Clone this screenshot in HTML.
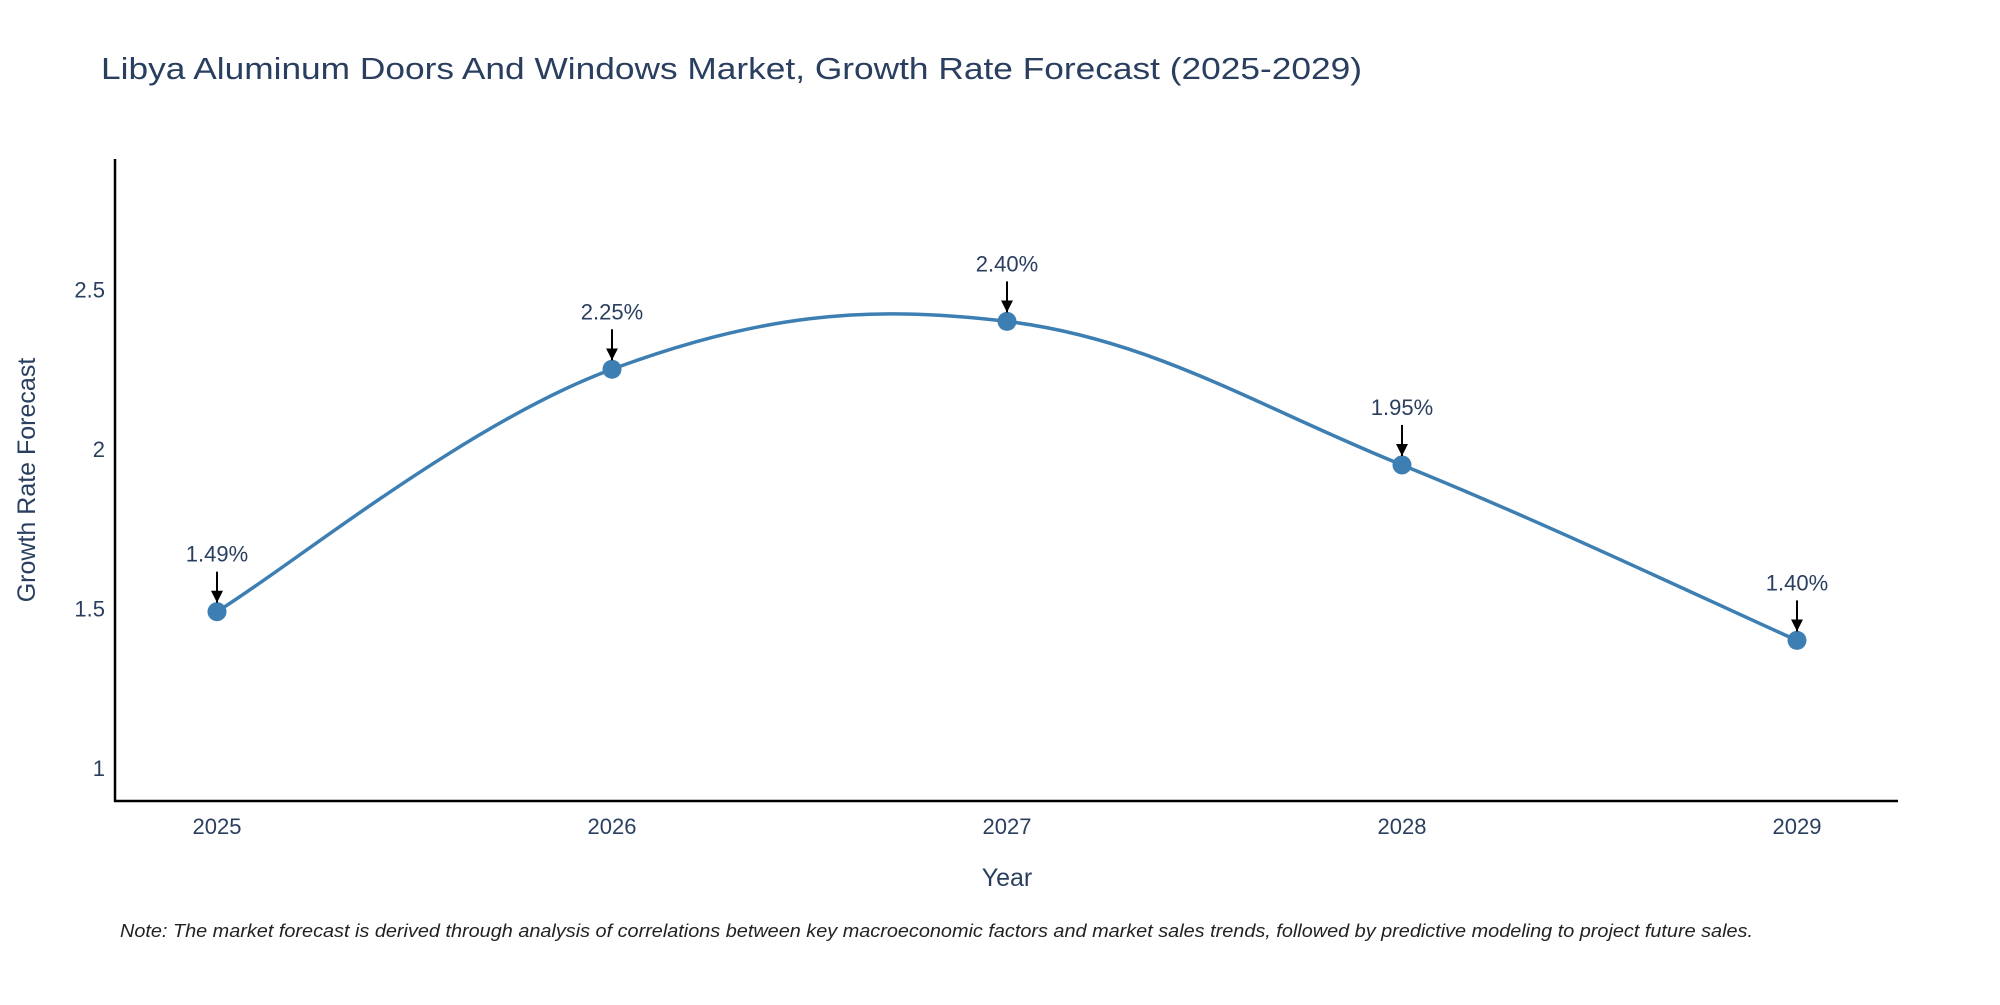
<!DOCTYPE html>
<html><head><meta charset="utf-8"><style>
body{margin:0;background:#fff;}
svg text{font-family:"Liberation Sans",sans-serif;}
</style></head><body>
<svg id="chart" width="2000" height="1000" xmlns="http://www.w3.org/2000/svg">
<defs><marker id="ah" markerWidth="12" markerHeight="12" refX="12" refY="6" orient="auto" markerUnits="userSpaceOnUse"><path d="M0,0 L12,6 L0,12 Z" fill="#000"/></marker></defs>
<text x="101" y="79" font-size="31" fill="#2a3f5f" textLength="1261" lengthAdjust="spacingAndGlyphs">Libya Aluminum Doors And Windows Market, Growth Rate Forecast (2025-2029)</text>
<line x1="115" y1="159" x2="115" y2="802" stroke="#000" stroke-width="2.5"/>
<line x1="114" y1="801" x2="1898" y2="801" stroke="#000" stroke-width="2.5"/>
<text transform="translate(35,480) rotate(-90)" text-anchor="middle" font-size="25" fill="#2a3f5f">Growth Rate Forecast</text>
<text x="1007" y="886" text-anchor="middle" font-size="25" fill="#2a3f5f">Year</text>
<text x="120" y="937" font-size="18" font-style="italic" fill="#222" textLength="1633" lengthAdjust="spacingAndGlyphs">Note: The market forecast is derived through analysis of correlations between key macroeconomic factors and market sales trends, followed by predictive modeling to project future sales.</text>
<g id="plot"></g>
</svg>
<script>
const years=[2025,2026,2027,2028,2029];
const rates=[1.49,2.25,2.40,1.95,1.40];
const labels=["1.49%","2.25%","2.40%","1.95%","1.40%"];
const yTicks=[1,1.5,2,2.5];
const yTickLabels=["1","1.5","2","2.5"];
const NS="http://www.w3.org/2000/svg";
const svg=document.getElementById('chart');
const plot=document.getElementById('plot');
function xs(i){return 217+i*395;}
function ys(v){return 768-(v-1)*319;}
function mk(t,a,p){const e=document.createElementNS(NS,t);for(const k in a)e.setAttribute(k,a[k]);(p||svg).appendChild(e);return e;}
yTicks.forEach((t,i)=>{
 const e=mk('text',{x:105,y:ys(t)+8,'text-anchor':'end','font-size':22,fill:'#2a3f5f'});
 
 
 e.textContent=yTickLabels[i];
});
years.forEach((y,i)=>{
 const e=mk('text',{x:xs(i),y:834,'text-anchor':'middle','font-size':22,fill:'#2a3f5f'});
 
 
 e.textContent=y;
});
const pts=rates.map((r,i)=>[xs(i),ys(r)]);
let d=`M${pts[0][0]},${pts[0][1]}`;
const s=0.55;
for(let i=0;i<pts.length-1;i++){
 const p0=pts[Math.max(0,i-1)],p1=pts[i],p2=pts[i+1],p3=pts[Math.min(pts.length-1,i+2)];
 const c1=[p1[0]+(p2[0]-p0[0])*s/3,p1[1]+(p2[1]-p0[1])*s/3];
 const c2=[p2[0]-(p3[0]-p1[0])*s/3,p2[1]-(p3[1]-p1[1])*s/3];
 d+=` C${c1[0]},${c1[1]} ${c2[0]},${c2[1]} ${p2[0]},${p2[1]}`;
}
const line=mk('path',{d:d,fill:'none',stroke:'#3d7fb3','stroke-width':3.5},plot);


pts.forEach((p,i)=>{
 const c=mk('circle',{cx:p[0],cy:p[1],r:9.5,fill:'#3d7fb3'},plot);
 
 
 const a=mk('line',{x1:p[0],y1:p[1]-40,x2:p[0],y2:p[1]-9,stroke:'#000','stroke-width':2,'marker-end':'url(#ah)'},plot);
 
 
 const t=mk('text',{x:p[0],y:p[1]-50,'text-anchor':'middle','font-size':22,fill:'#2a3f5f'},plot);
 
 
 t.textContent=labels[i];
});
</script>
</body></html>
